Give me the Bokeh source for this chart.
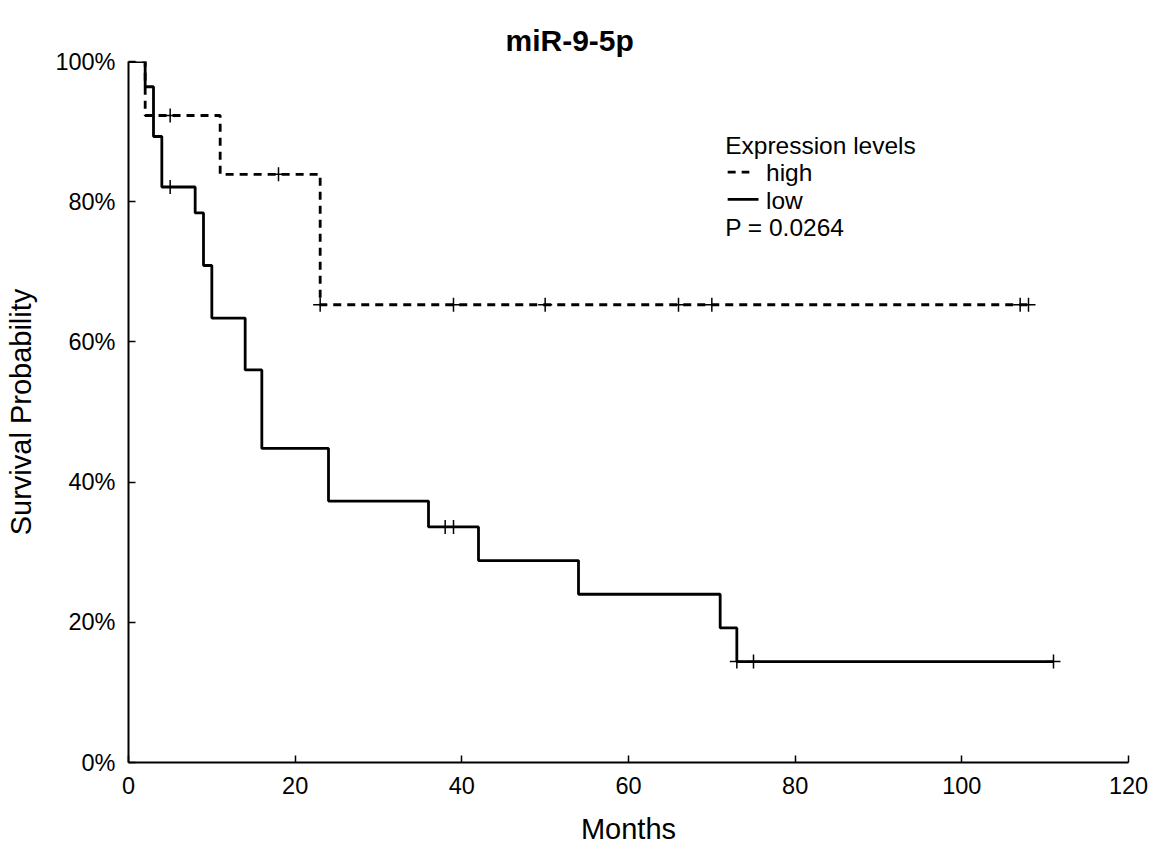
from bokeh.plotting import figure
from bokeh.models import FixedTicker, NumeralTickFormatter, Range1d
from bokeh.core.properties import value
from bokeh.embed import file_html
from bokeh.resources import INLINE

# Kaplan-Meier step data (months, survival fraction)
high_time = [0, 2, 11, 23, 108]
high_surv = [1.0, 0.923, 0.839, 0.653, 0.653]
high_cens_time = [5, 18, 23, 39, 50, 66, 70, 107, 108]
high_cens_surv = [0.923, 0.839, 0.653, 0.653, 0.653, 0.653, 0.653, 0.653, 0.653]

low_time = [0, 2, 3, 4, 8, 9, 10, 14, 16, 24, 36, 42, 54, 71, 73, 111]
low_surv = [1.0, 0.964, 0.893, 0.821, 0.784, 0.709, 0.634, 0.560, 0.448,
            0.373, 0.336, 0.288, 0.240, 0.192, 0.144, 0.144]
low_cens_time = [5, 38, 39, 73, 75, 111]
low_cens_surv = [0.821, 0.336, 0.336, 0.144, 0.144, 0.144]

x_ticks = [0, 20, 40, 60, 80, 100, 120]
y_ticks = [0, 0.2, 0.4, 0.6, 0.8, 1.0]

title_text = "miR-9-5p"
legend_title = "Expression levels"
legend_labels = ["high", "low"]
p_text = "P = 0.0264"

FONT = "Liberation Sans"

p = figure(width=1155, height=847, output_backend="svg", toolbar_location=None,
           x_range=Range1d(0, 120), y_range=Range1d(0, 1),
           min_border_left=128, min_border_right=27, min_border_top=61, min_border_bottom=84)
p.title.text = title_text
p.title.text_font = FONT
p.title.text_font_size = "30px"
p.title.text_font_style = "bold"
p.title.align = "left"
p.title.offset = 377
p.title.text_color = "black"
p.outline_line_color = None
p.xgrid.visible = False
p.ygrid.visible = False

for ax in (p.xaxis[0], p.yaxis[0]):
    ax.axis_line_width = 2
    ax.axis_line_color = "black"
    ax.major_tick_in = 7
    ax.major_tick_out = 0
    ax.minor_tick_line_color = None
    ax.major_tick_line_color = "black"
    ax.major_tick_line_width = 1.5
    ax.major_label_text_font = FONT
    ax.major_label_text_font_size = "23.5px"
    ax.major_label_text_color = "black"
    ax.axis_label_text_font = FONT
    ax.axis_label_text_font_size = "29px"
    ax.axis_label_text_font_style = "normal"
    ax.axis_label_text_color = "black"

p.xaxis.ticker = FixedTicker(ticks=x_ticks)
p.yaxis.ticker = FixedTicker(ticks=y_ticks)
p.yaxis.formatter = NumeralTickFormatter(format="0%")
p.xaxis.axis_label = "Months"
p.yaxis.axis_label = "Survival Probability"
p.xaxis.major_label_standoff = 14
p.yaxis.major_label_standoff = 13
p.xaxis.axis_label_standoff = 16
p.yaxis.axis_label_standoff = 15

DASH = "8 6"
LW = 2.8
p.step(high_time, high_surv, mode="after", line_color="black", line_width=LW, line_dash=DASH)
p.step(low_time, low_surv, mode="after", line_color="black", line_width=LW)
p.scatter(high_cens_time, high_cens_surv, marker="cross", size=14, line_color="black", line_width=1.5)
p.scatter(low_cens_time, low_cens_surv, marker="cross", size=14, line_color="black", line_width=1.5)

# legend block (text annotation style)
FS = "24.5px"
p.text(x=[71.6], y=[0.880], text=[legend_title], text_font=value(FONT), text_font_size=FS,
       text_baseline="alphabetic", text_color="black")
p.text(x=[76.5, 76.5], y=[0.842, 0.802], text=legend_labels, text_font=value(FONT), text_font_size=FS,
       text_baseline="alphabetic", text_color="black")
p.text(x=[71.6], y=[0.7635], text=[p_text], text_font=value(FONT), text_font_size=FS,
       text_baseline="alphabetic", text_color="black")
p.segment(x0=[71.9], y0=[0.8423], x1=[74.5], y1=[0.8423], line_color="black", line_width=LW, line_dash=DASH)
p.segment(x0=[71.9], y0=[0.8034], x1=[75.6], y1=[0.8034], line_color="black", line_width=LW)

open("out.html", "w").write(file_html(p, INLINE))
